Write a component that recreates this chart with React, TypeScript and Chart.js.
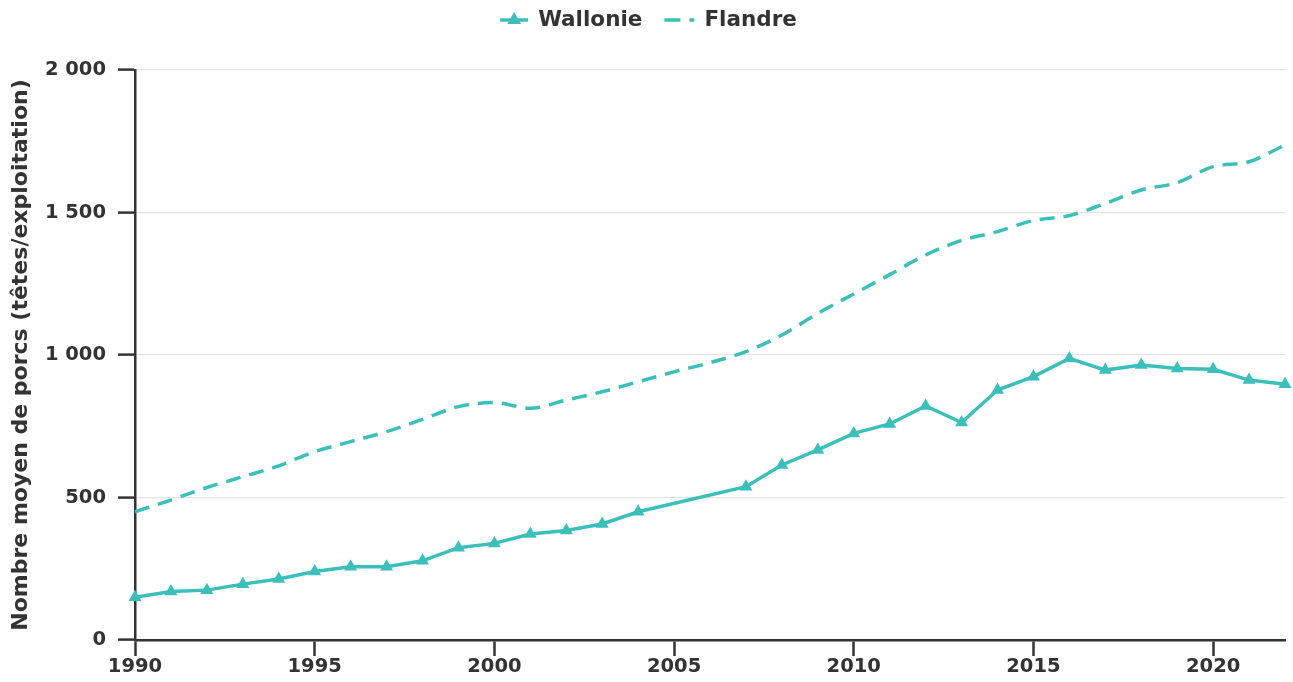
import React, { useEffect, useRef } from "react";
import { Chart, registerables } from "chart.js";

Chart.register(...registerables);

const years = [
  1990, 1991, 1992, 1993, 1994, 1995, 1996, 1997, 1998, 1999, 2000, 2001, 2002,
  2003, 2004, 2005, 2006, 2007, 2008, 2009, 2010, 2011, 2012, 2013, 2014, 2015,
  2016, 2017, 2018, 2019, 2020, 2021, 2022,
];

const wallonie = [
  150, 170, 175, 196, 214, 240, 257, 257, 278, 324, 339, 372, 384, 407, 450,
  null, null, 538, 614, 667, 725, 758, 821, 763, 877, 924, 988, 947, 965, 953,
  950, 912, 897,
];

const flandre = [
  450, 491, 535, 573, 611, 661, 696, 731, 774, 819, 833, 813, 842, 871, 906,
  941, 973, 1012, 1070, 1146, 1214, 1282, 1351, 1402, 1433, 1472, 1489, 1532,
  1579, 1605, 1661, 1678, 1737,
];

const seriesNames = ["Wallonie", "Flandre"];
const yTitle = "Nombre moyen de porcs (têtes/exploitation)";

const TEAL = "rgb(59,191,186)";
const DARK = "#333333";
const FONT = "'DejaVu Sans', Verdana, sans-serif";

const fmt = (v: number) =>
  String(Math.round(v)).replace(/\B(?=(\d{3})+(?!\d))/g, " ");

const legendPlugin = {
  id: "customLegend",
  afterDraw(chart: any) {
    const ctx = chart.ctx as CanvasRenderingContext2D;
    ctx.save();
    ctx.font = `bold 21.5px ${FONT}`;
    const w1 = ctx.measureText(seriesNames[0]).width;
    const w2 = ctx.measureText(seriesNames[1]).width;
    const sym1 = 28;
    const sym2 = 30;
    const gapText = 10;
    const itemGap = 22;
    const total = sym1 + gapText + w1 + itemGap + sym2 + gapText + w2;
    let x = (chart.width - total) / 2 + 2;
    const y = 20;
    // Wallonie symbol
    ctx.strokeStyle = TEAL;
    ctx.fillStyle = TEAL;
    ctx.lineWidth = 3.5;
    ctx.setLineDash([]);
    ctx.beginPath();
    ctx.moveTo(x, y);
    ctx.lineTo(x + sym1, y);
    ctx.stroke();
    const cx = x + sym1 / 2;
    const r = 8;
    ctx.beginPath();
    ctx.moveTo(cx, y - r);
    ctx.lineTo(cx + r * 0.866, y + r * 0.5);
    ctx.lineTo(cx - r * 0.866, y + r * 0.5);
    ctx.closePath();
    ctx.fill();
    x += sym1 + gapText;
    ctx.fillStyle = DARK;
    ctx.textBaseline = "middle";
    ctx.textAlign = "left";
    ctx.fillText(seriesNames[0], x, y);
    x += w1 + itemGap;
    // Flandre symbol
    ctx.strokeStyle = TEAL;
    ctx.setLineDash([16, 9]);
    ctx.beginPath();
    ctx.moveTo(x, y);
    ctx.lineTo(x + sym2, y);
    ctx.stroke();
    ctx.setLineDash([]);
    x += sym2 + gapText;
    ctx.fillStyle = DARK;
    ctx.fillText(seriesNames[1], x, y);
    ctx.restore();
  },
};

export default function App() {
  const ref = useRef<HTMLCanvasElement | null>(null);

  useEffect(() => {
    document.body.style.margin = "0";
    const canvas = ref.current;
    if (!canvas) return;
    const chart = new Chart(canvas, {
      type: "line",
      data: {
        datasets: [
          {
            label: seriesNames[0],
            data: years.map((yr, i) => ({ x: yr, y: wallonie[i] })) as any,
            borderColor: TEAL,
            backgroundColor: TEAL,
            borderWidth: 3.5,
            pointStyle: "triangle",
            pointRadius: 7.5,
            pointBorderWidth: 0,
            pointBackgroundColor: TEAL,
            tension: 0,
            spanGaps: true,
            clip: false as any,
          },
          {
            label: seriesNames[1],
            data: years.map((yr, i) => ({ x: yr, y: flandre[i] })) as any,
            borderColor: TEAL,
            backgroundColor: TEAL,
            borderWidth: 3.5,
            borderDash: [15, 9],
            pointRadius: 0,
            cubicInterpolationMode: "monotone",
            clip: false as any,
          },
        ],
      },
      options: {
        responsive: false,
        animation: false,
        layout: { padding: { top: 70, left: 0, right: 8, bottom: 0 } },
        plugins: {
          legend: { display: false },
          tooltip: { enabled: false },
        },
        scales: {
          x: {
            type: "linear",
            min: 1990,
            max: 2022,
            afterBuildTicks: (scale: any) => {
              scale.ticks = scale.ticks.filter((t: any) => t.value % 5 === 0);
            },
            afterFit: (scale: any) => {
              scale.height = 42;
            },
            ticks: {
              stepSize: 5,
              autoSkip: false,
              maxRotation: 0,
              padding: 1,
              color: DARK,
              font: { family: FONT, size: 19.5, weight: "bold", lineHeight: 1 },
              callback: (v: any) => String(v),
            },
            grid: {
              drawOnChartArea: false,
              drawTicks: true,
              tickLength: 16,
              tickColor: DARK,
              tickWidth: 2.5,
            },
            border: { display: true, color: DARK, width: 2.5 },
          },
          y: {
            min: 0,
            max: 2000,
            afterFit: (scale: any) => {
              scale.width = 135;
            },
            ticks: {
              stepSize: 500,
              padding: 12,
              color: DARK,
              font: { family: FONT, size: 19.5, weight: "bold", lineHeight: 1 },
              callback: (v: any) => fmt(Number(v)),
            },
            grid: {
              color: "#e4e4e4",
              lineWidth: 1.2,
              drawTicks: true,
              tickLength: 17,
              tickColor: DARK,
              tickWidth: 2.5,
            },
            border: { display: true, color: DARK, width: 2.5 },
            title: {
              display: true,
              text: yTitle,
              color: DARK,
              font: { family: FONT, size: 22, weight: "bold", lineHeight: 1.2 },
              padding: { top: 8, bottom: 0 },
            },
          },
        },
      },
      plugins: [legendPlugin],
    });
    return () => chart.destroy();
  }, []);

  return (
    <div style={{ width: 1293, height: 682 }}>
      <canvas ref={ref} width={1293} height={682} />
    </div>
  );
}
